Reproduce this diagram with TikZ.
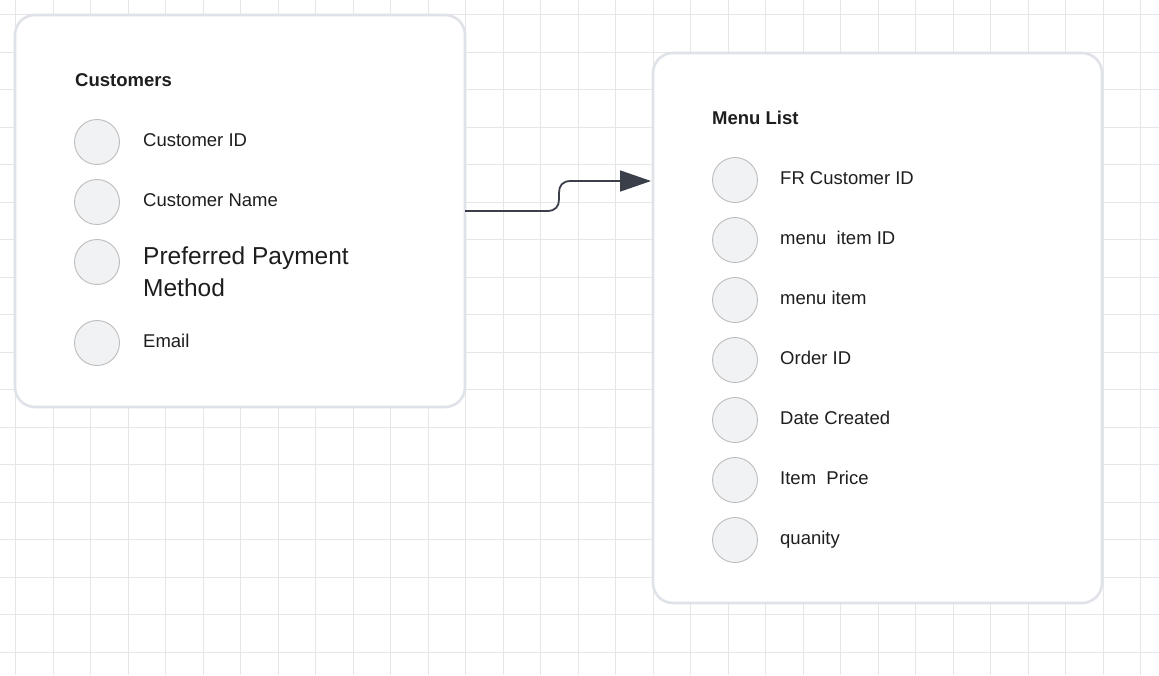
\documentclass[tikz,border=0pt]{standalone}
\usepackage{fontspec}
\setmainfont{Liberation Sans}
\usetikzlibrary{arrows.meta}
\definecolor{gridc}{HTML}{E6E6E8}
\definecolor{cardb}{HTML}{DFE2E8}
\definecolor{dotf}{HTML}{F1F2F4}
\definecolor{dotb}{HTML}{BDBDBD}
\definecolor{txt}{HTML}{1E1E1E}
\definecolor{arr}{HTML}{3A3F4A}
\tikzset{
  card/.style={draw=cardb, line width=2.6pt, fill=white, rounded corners=20pt, inner sep=0pt, outer sep=0pt},
  dot/.style={circle, draw=dotb, line width=0.9pt, fill=dotf, minimum size=45pt, inner sep=0pt},
  lbl/.style={anchor=base west, inner sep=0pt, text=txt, font=\fontsize{18.5}{22}\selectfont},
  big/.style={anchor=base west, inner sep=0pt, text=txt, font=\fontsize{24.5}{32}\selectfont, align=left},
  ttl/.style={anchor=base west, inner sep=0pt, text=txt, font=\fontsize{18.5}{22}\selectfont\bfseries},
  conn/.style={draw=arr, line width=1.8pt, -{Triangle[length=31pt,width=21pt]}}
}
\begin{document}
\begin{tikzpicture}[x=1pt,y=-1pt]
\useasboundingbox (0,0) rectangle (1159,675);
\fill[white] (0,0) rectangle (1159,675);
% grid
\foreach \i in {0,...,30} {\draw[gridc, line width=1pt] (15.5+37.5*\i,0) -- (15.5+37.5*\i,675);}
\foreach \j in {0,...,17} {\draw[gridc, line width=1pt] (0,14.5+37.5*\j) -- (1159,14.5+37.5*\j);}
% cards
\node[card, minimum width=450pt, minimum height=392pt] (c1) at (240,211) {};
\node[card, minimum width=449pt, minimum height=550pt] (c2) at (877.5,328) {};
% card 1
\node[ttl] (t1) at (75,86.7) {Customers};
\node[dot] (d11) at (97,142) {};
\node[dot] (d12) at (97,202) {};
\node[dot] (d13) at (97,262) {};
\node[dot] (d14) at (97,343) {};
\node[lbl] (l11) at (143,146.7) {Customer ID};
\node[lbl] (l12) at (143,206.7) {Customer Name};
\node[big, anchor=north west] (l13) at (143,246.5) {Preferred Payment\\Method};
\node[lbl] (l14) at (143,347.7) {Email};
% card 2
\node[ttl] (t2) at (712,124.7) {Menu List};
\foreach \k/\t in {0/FR Customer ID,1/menu\ \ item ID,2/menu item,3/Order ID,4/Date Created,5/Item\ \ Price,6/quanity} {
  \node[dot] (d2\k) at (735,180+60*\k) {};
  \node[lbl] (l2\k) at (780,184.7+60*\k) {\t};
}
% connector
\coordinate (tip) at (651,181);
\draw[conn] (c1.east) -- (547,211) .. controls (556,211) and (559,206) .. (559,199)
  -- (559,193) .. controls (559,186) and (562,181) .. (571,181) -- (tip);
\end{tikzpicture}
\end{document}
